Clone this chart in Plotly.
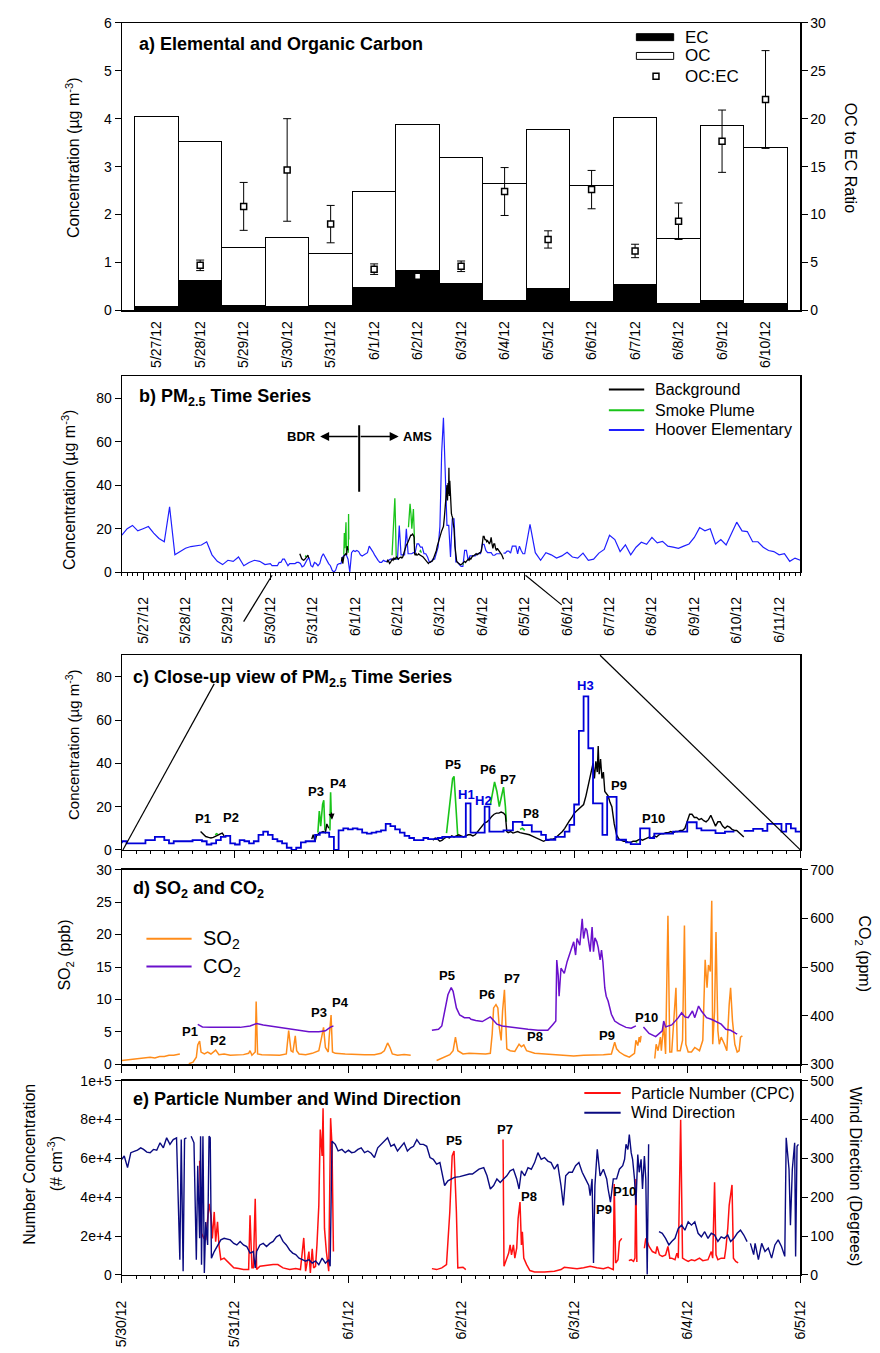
import pandas as pd
import plotly.graph_objects as go

FONT = "Liberation Sans, Arial, sans-serif"

# ---------------- Panel a data ----------------
dates_a = ["5/27/12", "5/28/12", "5/29/12", "5/30/12", "5/31/12", "6/1/12", "6/2/12", "6/3/12",
           "6/4/12", "6/5/12", "6/6/12", "6/7/12", "6/8/12", "6/9/12", "6/10/12"]
ec = [0.09, 0.62, 0.11, 0.09, 0.11, 0.47, 0.83, 0.56, 0.21, 0.45, 0.19, 0.55, 0.14, 0.21, 0.15]
oc = [3.96, 2.90, 1.20, 1.44, 1.07, 2.01, 3.05, 2.64, 2.43, 3.32, 2.41, 3.48, 1.36, 3.65, 3.25]
ocec = [None, 4.7, 10.85, 14.65, 9.0, 4.3, 3.55, 4.6, 12.4, 7.4, 12.6, 6.2, 9.3, 17.65, 22.0]
ocec_err = [0, 0.55, 2.5, 5.35, 1.95, 0.55, 0.15, 0.55, 2.5, 0.9, 2.0, 0.7, 1.9, 3.25, 5.1]

# ---------------- Hoover Elementary PM2.5 ----------------
hoover_early = [17, 20, 21.5, 19, 20, 21, 18, 15.5, 14, 30, 8, 9.6, 11, 11.8, 12, 12.5, 14, 8, 5, 3.5,
                5.5, 5, 7, 3, 4.5, 5.5, 5, 3.5]  # 3-hourly from 5/26 12:00
hoover_mid = [4, 3, 3, 3, 3, 4.5, 4.5, 6, 6, 4.5, 3, 4, 4, 4, 4, 4.5, 4.5, 4, 2.5, 3, 4.5, 6, 6.5, 3,
              2.5, 4.5, 4, 3, 4, 7, 8.5, 7, 5, 4, 3, 1, 0, 1, 3.5, 4, 4, 7, 8, 8, 6, 0, 9, 10,
              9.5, 10, 9.5, 8, 7.5, 8, 8.5, 9, 12, 11, 9.5, 8, 6.5, 5.5, 4.5, 4.5, 5.5, 5, 5, 5.5, 6, 6,
              6, 6, 6, 21.5, 8, 8, 8, 20, 8.5, 8.5, 8.5, 9, 9, 13, 13, 11.5, 11.5, 8.5, 8.5, 7,
              4.7, 4.7, 6, 6, 8.5, 11.6, 21, 55, 71, 47, 21.5, 21.5, 7, 24.5, 24.5, 4.7, 4.7, 3.5, 2.7, 2.7,
              10, 10, 5.5, 7.5, 7.5, 7.5, 7.5, 8.5, 8.5, 8.5, 12.8, 12.8, 10, 9, 9, 9, 7.8, 7.8,
              8.5, 8.5, 8.5, None, 8.8, 8.8, 9.7, 9.7, 8.8, 12, 12, 12, 8.5, 12, 10, 8.5, 8.5]  # hourly from 5/30 00:00
hoover_late = [22, 9, 5.5, 9, 8, 6.5, 7.5, 9.2, 7, 6.5, 8.8, 5.5, 6, 8.8, 10.5, 17, 15, 9.5, 12.6, 8,
               11.5, 13.8, 12.8, 16, 13.5, 14.2, 12, 11.5, 11, 12, 13, 16, 20.5, 19, 20, 13, 15, 12.5, 18, 23,
               19, 18.7, 14, 14, 11.5, 10, 9.5, 8, 8.5, 5, 6.5, 5.5]  # 3-hourly from 6/5 03:00

# (hours after 5/30 00:00, value)
background = [(16.7, 8.5), (17.2, 7.3), (17.8, 6.2), (18.4, 5.8), (18.9, 5.5), (19.4, 5.8), (19.9, 6.2),
              (20.4, 6.8), (20.8, 7.3), (21.3, 7.8), (21.7, 6.5), (21.8, None),
              (40.3, 5), (40.6, 7), (41.0, 4), (41.3, 6.5), (41.7, 7.5), (42.2, 8), (42.7, 8.5), (43.2, 8),
              (43.5, 12), (43.9, 10), (44.0, None),
              (66, 4.5), (66.5, 5.5), (67, 5), (67.5, 4), (68, 4.5), (68.5, 5.5), (69, 6), (69.5, 5.5),
              (70, 6.5), (70.5, 6), (71, 6.5), (71.5, 7), (72, 6.5), (72.5, 6), (73, 6.5), (73.5, 7),
              (74, 7), (74.5, 6.5), (75, 7), (75.5, 8.5), (76, 10), (76.5, 11), (77, 12.5), (77.5, 13),
              (78, 14), (78.5, 15.5), (79, 16.5), (79.5, 17), (80, 17), (80.5, 17.5), (81, 17), (81.4, 16),
              (81.7, 8.5), (82, 8), (82.5, 8.5), (83, 7.8), (83.5, 8), (84, 8.5), (84.5, 8), (85, 7.8),
              (85.5, 7.5), (86, 7.5), (86.5, 7), (87, 6.5), (87.5, 6), (88, 5.5), (88.5, 5), (89, 4.5),
              (89.5, 4), (90, 4.5), (90.5, 4.5), (91, 5), (91.5, 5), (92, 5.5), (92.5, 6.5), (93, 7.5),
              (93.5, 8.5), (94, 10), (94.5, 12), (95, 13.5), (95.5, 15), (96, 17), (96.5, 18), (97, 19),
              (97.5, 20), (98, 21), (98.5, 25), (99, 30), (99.5, 36), (100, 40), (100.3, 33), (100.6, 41),
              (100.9, 36), (101.1, 48), (101.3, 35), (101.6, 42), (101.9, 33), (102.2, 36), (102.5, 27),
              (102.8, 26), (103.2, 25), (103.6, 22), (104, 20), (104.5, 12), (105, 7), (105.5, 5),
              (106, 4.5), (106.5, 4), (107, 4), (107.5, 3.5), (108, 3.5), (108.5, 4), (109, 4), (109.5, 4.5),
              (110, 5), (110.5, 4.5), (111, 5), (111.5, 5.5), (112, 6), (112.5, 5.5), (113, 6.5), (113.5, 6),
              (114, 7), (114.5, 7.5), (115, 7.5), (115.5, 8), (116, 8), (116.5, 8.5), (117, 8), (117.5, 8.5),
              (118, 8.5), (118.5, 9), (119, 9), (119.5, 10), (120, 13), (120.5, 16.5), (121, 16.5),
              (121.5, 15), (122, 15), (122.5, 14), (123, 14.5), (123.5, 13.5), (124, 13), (124.5, 14),
              (125, 16), (125.5, 13), (126, 11), (126.5, 13), (127, 13), (127.5, 11), (128, 10),
              (128.5, 11), (129, 10.5), (129.5, 9.5), (130, 9), (130.5, 9), (131, 8), (131.5, 7), (132, 6)]

smoke = [(19.8, 7.0), (20.1, 7.5), (20.4, 7.2), (20.5, None),
         (41.6, 8), (41.9, 18), (42.2, 11), (42.6, 21), (42.85, 23), (43.1, 9), (43.2, None),
         (44.15, 9), (44.3, 26.7), (44.45, 15), (44.5, None),
         (68.9, 7.8), (69.6, 20), (70.2, 33), (70.5, 34), (70.8, 25), (71.3, 6), (71.4, None),
         (78.2, 20.7), (78.6, 26), (79.1, 31.4), (79.6, 27), (80.1, 20), (80.5, 24), (81.0, 29),
         (81.4, 20), (81.6, 13), (81.7, None),
         (84.5, 9.5), (85.0, 10), (85.5, 9), (85.6, None),
         (109.0, 4), (109.4, 3.5)]

# ---------------- Panel d ----------------
so2 = [(0, 0.6), (1, 0.7), (2, 0.8), (3, 0.8), (4, 0.9), (5, 1.0), (6, 1.1), (7, 1.0), (8, 1.2), (9, 1.2),
       (10, 1.4), (11, 1.4), (12, 1.6), (12.3, 1.6), (13, None),
       (14.2, 0.1), (15.1, 0.35), (15.8, 1.1), (16.1, 3.0), (16.5, 3.6), (16.8, 1.9), (17.5, 1.6),
       (18.2, 1.9), (18.9, 1.6), (19.9, 2.2), (20.6, 1.5), (21.7, 1.6), (23, 1.4), (24.4, 1.5),
       (25.8, 1.5), (26.9, 1.7), (27.2, 2.1), (27.6, 1.4), (28.3, 1.9), (28.5, 9.7), (28.8, 1.6),
       (29.7, 1.5), (31.4, 1.5), (33.5, 1.4), (34.9, 1.6), (35.4, 5.2), (35.9, 2.1), (36.3, 1.9),
       (36.8, 4.4), (37.1, 2.1), (37.6, 1.6), (39, 1.5), (40.4, 1.7), (41.8, 2.1), (42.4, 4.2),
       (42.8, 5.7), (43.2, 2.6), (43.8, 1.9), (44.0, 4.2), (44.4, 7.6), (44.7, 1.9), (45.3, 1.7),
       (47.4, 1.6), (49.4, 1.5), (51.5, 1.5), (53.6, 1.5), (55, 1.7), (55.7, 2.1), (56.4, 3.3),
       (56.9, 2.6), (57.4, 1.6), (58.5, 1.4), (59.9, 1.5), (61.3, 1.4), (62, None),
       (66.8, 0.6), (68.2, 1.1), (69.6, 1.5), (70.3, 2.1), (70.8, 4.2), (71.3, 2.1), (72.4, 1.6),
       (73.7, 1.7), (75.8, 1.6), (77.2, 1.6), (78.2, 1.7), (78.6, 4.7), (78.9, 8.7), (79.4, 9.2),
       (79.8, 8.7), (80.1, 5.7), (80.5, 3.7), (80.8, 8.2), (81.2, 11.5), (81.4, 7.2), (81.7, 2.4),
       (82.4, 2.1), (83.4, 2.0), (84.3, 3.1), (84.8, 2.7), (85.3, 3.0), (85.9, 2.1), (87.6, 1.7),
       (89.7, 1.6), (91.8, 1.6), (93.9, 1.5), (95.9, 1.3), (98, 1.4), (100.1, 1.4), (102.2, 1.5),
       (103.9, 1.6), (104.6, 3.4), (105, 2.4), (105.6, 1.9), (106.7, 1.4), (107.7, 1.1), (108.8, 1.7),
       (109.1, 3.7), (109.5, 2.9), (109.8, 4.2), (110, 3.4), (110.2, 4.4), (111, None),
       (113.1, 0.9), (113.4, 3.1), (113.8, 2.1), (114.3, 4.2), (114.5, 2.1), (115, 6.2), (115.4, 1.6),
       (115.9, 22.9), (116.3, 1.9), (116.7, 1.9), (117.6, 11.8), (117.9, 2.1), (118.5, 2.1), (119, 3.7),
       (119.4, 21.4), (119.7, 3.1), (120.2, 1.9), (120.9, 1.9), (121.6, 2.6), (122.6, 2.1), (123.3, 3.7),
       (123.8, 16.1), (124.2, 11.8), (124.5, 15.3), (124.9, 14.3), (125.2, 25.2), (125.4, 3.1),
       (125.8, 8.2), (126.1, 20.4), (126.5, 5.2), (126.8, 3.1), (127.2, 4.2), (127.9, 3.1), (128.4, 2.1),
       (128.9, 9.2), (129.2, 11.8), (129.6, 6.7), (130.1, 3.1), (130.6, 1.9), (131, 2.1), (131.3, 4.2),
       (131.7, 4.4)]

co2 = [(16.1, 382), (17.1, 377), (18.9, 376), (21, 376), (23, 376), (25.1, 376), (27.2, 379), (28.6, 384),
       (30, 381), (31.4, 379), (33.5, 376), (35.6, 372), (37.6, 369), (39.7, 367), (41.8, 367), (43.2, 369),
       (44.2, 376), (44.9, 379), (45, None),
       (65.8, 370), (67.2, 372), (67.9, 379), (68.5, 410), (69.2, 443), (69.9, 458), (70.3, 450), (71, 416),
       (71.7, 401.5), (72.7, 396), (73.75, 396), (74.1, 392.7), (75.1, 390), (76.5, 388), (77.5, 392.7),
       (78.2, 397.5), (78.9, 390), (79.6, 382.6), (80.7, 379), (82, 377), (84.1, 374), (86.2, 372),
       (88.3, 370), (90.4, 370), (91.4, 381), (92.1, 389), (92.3, 514.5), (92.6, 484), (92.8, 440),
       (93.2, 497.6), (93.9, 487), (94.5, 511), (95.2, 531.5), (95.9, 551.8), (96.3, 524.6), (96.6, 558.6),
       (97.2, 545), (97.7, 599), (98, 558.6), (98.4, 580), (98.7, 575.5), (99.1, 550), (99.4, 531.5),
       (99.8, 582), (100.1, 531.5), (100.4, 560), (100.8, 551.8), (101.1, 540), (101.5, 514.5),
       (101.8, 534.8), (102.1, 510), (102.5, 457), (102.8, 440), (103.2, 430), (103.9, 403), (104.6, 389),
       (105.6, 382.6), (107, 376), (108.1, 374.4), (109.1, 379), (109.5, None),
       (110.7, 377), (111.9, 363.6), (113.3, 356.9), (114.7, 369), (115, 389), (115.4, 377), (116.7, 381),
       (118.1, 396), (118.8, 406), (119.5, 397.5), (120.2, 396), (121.1, 409.6), (121.6, 396),
       (122.4, 419.8), (123, 409.6), (124.1, 396), (125.1, 392.7), (126.1, 388), (127.2, 382.6),
       (128.2, 372), (129.2, 370), (130.3, 363.6), (130.6, 362.3)]

# ---------------- Panel e ----------------
wind = [(0, 297.6), (0.5, 306), (1.2, 276), (1.9, 314.6), (2.6, 318), (3.3, 321), (4.0, 327), (4.6, 323),
        (5.3, 316), (6.0, 314.6), (6.7, 323), (7.4, 321), (8.1, 340), (8.8, 327), (9.5, 352.8), (10.2, 336),
        (10.9, 348.5), (11.6, 352.8), (12.3, 39), (12.6, 348.5), (13.0, 9.3), (13.3, 350), (13.7, 352.8),
        (14.2, None), (14.7, 357), (15.3, 340), (15.8, 39), (16.1, 281), (16.5, 94), (16.7, 357), (16.9, 26),
        (17.2, 357), (17.5, 5), (17.8, 136), (18.2, 77), (18.5, 357), (18.75, 353), (19.0, 43), (19.6, 60),
        (20.3, 77), (21.0, 90), (21.7, 94), (22.4, 92), (23.0, 90), (23.75, 81), (24.4, 77), (25.1, 86),
        (25.8, 77), (26.5, 73), (27.2, 56), (27.9, 60), (28.3, 18), (28.6, 60), (29.3, 77), (30.0, 81),
        (30.7, 73), (31.4, 81), (32.1, 86), (32.8, 98), (33.5, 102.6), (34.2, 86), (34.9, 77), (35.6, 64),
        (36.25, 56), (36.9, 52), (37.6, 43), (38.3, 39), (39.0, 35), (39.7, 39), (40.4, 30), (41.1, 36),
        (41.8, 26), (42.5, 43), (43.2, 30), (43.9, 39), (44.2, 22), (44.6, 344), (45.3, 336), (45.9, 319),
        (46.7, 323), (47.4, 314.6), (48.1, 321), (48.75, 314.6), (49.4, 316), (50.1, 323), (50.8, 327),
        (51.5, 314.6), (52.2, 319), (52.9, 313), (53.6, 302), (54.3, 327), (55.0, 336), (55.7, 344),
        (56.4, 352.8), (57.1, 331), (57.8, 336), (58.5, 319), (59.2, 331), (59.9, 340), (60.6, 319),
        (61.3, 327), (61.9, 331), (62.6, 348), (63.3, 336), (64.0, 336), (64.7, 331), (65.4, 302),
        (66.1, 297.6), (66.8, 285), (67.5, 289), (68.2, 247), (68.5, 230), (69.2, 242), (69.9, 247),
        (70.6, 251), (71.7, 253), (72.7, 257), (73.75, 259.5), (74.4, 259.5), (75.8, 272), (76.8, 276),
        (77.5, 255), (78.2, 221), (78.9, 230), (79.6, 247), (80.3, 238), (81.0, 247), (81.7, 255),
        (82.4, 268), (83.1, 272), (83.8, 247), (84.3, 221), (84.8, 268), (85.5, 255), (86.2, 276),
        (86.9, 272), (87.6, 289), (88.3, 314.6), (89.0, 297.6), (89.7, 302), (90.4, 293), (91.1, 289),
        (91.8, 272), (92.5, 285), (93.2, 230), (93.7, 179), (94.2, 255), (94.9, 264), (95.6, 264),
        (96.3, 281), (97.0, 289), (97.7, 264), (98.4, 247), (99.1, 230), (99.4, 204), (99.8, 247),
        (100.1, 30.5), (100.4, 230), (100.9, 323), (101.5, 255), (102.2, 272), (102.9, 247), (103.2, 221),
        (103.7, 187), (104.3, 247), (105.0, 247), (105.6, 272), (106.3, 281), (106.7, 297.6), (107.0, 336),
        (107.4, 323), (107.7, 361), (108.1, 314.6), (108.4, 297.6), (108.8, 247), (109.1, 179), (109.5, 310),
        (109.8, 264), (110.2, 297.6), (110.5, 221), (110.9, 306), (111.2, 247), (111.5, 1), (111.8, 336),
        (112.5, None), (114.0, 111), (114.7, 107), (115.4, 94), (116.1, 77), (116.7, 86), (117.4, 94),
        (118.1, 119.6), (118.8, 128), (119.5, 115), (120.2, 136.5), (120.9, 128), (121.6, 136.5),
        (122.3, 107), (123.0, 98), (123.7, 111), (124.4, 94), (125.1, 107), (125.8, 102.6), (126.5, 86),
        (127.2, 98), (127.9, 94), (128.6, 102.6), (129.2, 86), (129.9, 94), (130.6, 107), (131.3, 115),
        (132.0, 102.6), (132.7, 85.6), (133.0, None), (133.4, 81), (134.1, 52), (134.4, 81), (135.1, 39),
        (135.8, 81), (136.5, 60), (137.2, 69), (137.9, 43), (138.6, 77), (139.3, 90), (140.0, 73),
        (140.7, 47.5), (141.0, 353), (141.6, 272), (141.9, 128), (142.3, 272), (142.8, 340), (143.0, 47.5),
        (143.3, 331), (143.6, 336)]

particles = [(16.5, 58700), (16.7, 44000), (16.9, 21400), (17.4, 18800), (17.8, 18000), (18.5, 36600),
             (18.9, 30700), (19.2, 18800), (19.6, 32400), (19.9, 17100), (20.3, 27300), (20.6, 15400),
             (21.0, 7800), (21.7, 8600), (22.7, 6100), (23.75, 3600), (24.8, 3300), (25.8, 2700), (26.9, 2700),
             (27.2, 30700), (27.6, 3600), (27.9, 3600), (28.3, 39200), (28.6, 2700), (29.3, 4400), (30.7, 4900),
             (32.1, 5300), (33.1, 5300), (34.2, 3600), (35.6, 2700), (36.9, 3200), (37.9, 2700), (38.6, 19000),
             (39.0, 1900), (39.7, 12000), (40.0, 1000), (40.4, 13400), (40.7, 3600), (41.1, 4400), (41.4, 15400),
             (41.8, 35800), (42.1, 74800), (42.5, 61200), (42.7, 85800), (43.0, 23900), (43.4, 12000),
             (43.9, 1900), (44.3, 80700), (44.6, 66300), (44.9, 12000), (45.0, None),
             (65.8, 3200), (66.8, 2700), (67.9, 3600), (68.9, 5300), (69.6, 32400), (70.1, 61200), (70.5, 63800),
             (71.0, 32400), (71.3, 3600), (72.4, 3900), (73.0, 2700), (73.1, None),
             (80.9, 69700), (81.1, 4400), (81.7, 8600), (82.1, 11200), (82.4, 15400), (82.7, 10300), (83.1, 15400),
             (83.4, 8600), (83.8, 13700), (84.1, 29000), (84.5, 37500), (84.8, 15400), (85.0, 22200), (85.3, 8600),
             (85.9, 5300), (86.6, 2200), (87.6, 1500), (89.7, 1500), (91.8, 1900), (93.2, 2700), (93.9, 3900),
             (95.2, 3600), (96.6, 3200), (98.0, 3600), (99.4, 4400), (100.8, 3600), (102.2, 3200), (103.2, 3900),
             (104.3, 2700), (104.5, 46800), (104.8, 6100), (105.3, 7800), (105.6, 17100), (106.1, 18800),
             (106.2, None),
             (107.6, 7300), (108.1, 7800), (108.6, 6900), (108.9, 8600), (109.1, 49400), (109.3, 6600),
             (109.4, None),
             (110.9, 13700), (111.2, 18800), (111.5, 17100), (111.9, 14600), (112.6, 12000), (113.3, 11200),
             (113.6, 14600), (114.1, 10300), (114.7, 9500), (115.4, 10300), (115.9, 14600), (116.3, 8600),
             (116.7, 8600), (117.4, 7800), (117.8, 11200), (118.1, 8600), (118.6, 79900), (119.0, 8600),
             (119.5, 7800), (120.2, 6900), (120.9, 7800), (121.6, 7300), (122.6, 8600), (123.3, 7300),
             (124.4, 7800), (125.1, 12000), (125.4, 8600), (125.8, 47700), (126.1, 10300), (126.5, 7800),
             (127.2, 8600), (127.9, 8600), (128.2, 13700), (128.6, 23900), (128.9, 35800), (129.5, 46300),
             (129.8, 8600), (130.3, 6900), (130.8, 6100)]

# event labels (hours after 5/30, value)
labels_c = [("P1", 17.2, 14.5), ("P2", 23.1, 14.9), ("P3", 41.1, 26.8), ("P4", 46.0, 30.6), ("P5", 70.3, 39.3),
            ("P6", 77.7, 37.1), ("P7", 81.9, 32.6), ("P8", 86.9, 16.9), ("P9", 105.6, 29.8), ("P10", 112.9, 14.6)]
labels_c_h = [("H1", 73.2, 25.6), ("H2", 76.8, 23.0), ("H3", 98.4, 75.8)]
labels_d = [("P1", 14.4, 5.1), ("P2", 20.5, 3.65), ("P3", 41.9, 8.0), ("P4", 46.5, 9.5), ("P5", 68.9, 13.7),
            ("P6", 77.6, 10.7), ("P7", 82.7, 13.2), ("P8", 87.7, 4.3), ("P9", 102.9, 4.5), ("P10", 111.3, 7.2)]
labels_e = [("P5", 70.5, 69000), ("P7", 81.4, 75000), ("P8", 86.4, 40600), ("P9", 102.4, 33600),
            ("P10", 106.6, 42900)]

# ---------------- helpers ----------------
BASE = pd.Timestamp("2012-05-30")


def th(h):
    return BASE + pd.Timedelta(hours=h)


def unzip(series):
    return [th(h) for h, _ in series], [v for _, v in series]


def px(x):
    return x / 880.0


def py(y):
    return 1 - y / 1353.0


hoover_t = (list(pd.date_range("2012-05-26 12:00", periods=len(hoover_early), freq="3h"))
            + list(pd.date_range("2012-05-30 00:00", periods=len(hoover_mid), freq="h"))
            + list(pd.date_range("2012-06-05 03:00", periods=len(hoover_late), freq="3h")))
hoover_v = hoover_early + hoover_mid + hoover_late
bg_t, bg_v = unzip(background)
sm_t, sm_v = unzip(smoke)
so2_t, so2_v = unzip(so2)
co2_t, co2_v = unzip(co2)
wd_t, wd_v = unzip(wind)
pn_t, pn_v = unzip(particles)

XD = [px(116), px(807)]
DOM_A = [py(306), py(15)]
DOM_B = [py(571), py(372.7)]
DOM_C = [py(852), py(655)]
DOM_D = [py(1069), py(872)]
DOM_E = [py(1282), py(1085.5)]

BLACK = "#000000"
GREEN = "#19c419"
BLUE_B = "#1f1fff"
BLUE_C = "#0000d8"
ORANGE = "#ff8c1a"
PURPLE = "#6a10cc"
RED = "#ff1010"
NAVY = "#0a0a80"

fig = go.Figure()

# ---- panel a ----
fig.add_trace(go.Bar(x=dates_a, y=ec, marker=dict(color="black", line=dict(color="black", width=1)),
                     xaxis="x", yaxis="y", name="EC"))
fig.add_trace(go.Bar(x=dates_a, y=oc, marker=dict(color="white", line=dict(color="black", width=1)),
                     xaxis="x", yaxis="y", name="OC"))
fig.add_trace(go.Scatter(x=dates_a, y=ocec, mode="markers", xaxis="x", yaxis="y2", name="OC:EC",
                         marker=dict(symbol="square", size=6, color="white", line=dict(color="black", width=1.5)),
                         error_y=dict(type="data", array=ocec_err, color="black", thickness=1, width=4)))

# ---- panel b ----
fig.add_trace(go.Scatter(x=hoover_t, y=hoover_v, mode="lines", line=dict(color=BLUE_B, width=1.2),
                         xaxis="x2", yaxis="y3", connectgaps=False))
fig.add_trace(go.Scatter(x=sm_t, y=sm_v, mode="lines", line=dict(color=GREEN, width=1.3),
                         xaxis="x2", yaxis="y3", connectgaps=False))
fig.add_trace(go.Scatter(x=bg_t, y=bg_v, mode="lines", line=dict(color=BLACK, width=1.3),
                         xaxis="x2", yaxis="y3", connectgaps=False))

# ---- panel c ----
fig.add_trace(go.Scatter(x=sm_t, y=sm_v, mode="lines", line=dict(color=GREEN, width=1.6),
                         xaxis="x3", yaxis="y4", connectgaps=False))
fig.add_trace(go.Scatter(x=bg_t, y=bg_v, mode="lines", line=dict(color=BLACK, width=1.4),
                         xaxis="x3", yaxis="y4", connectgaps=False))
fig.add_trace(go.Scatter(x=hoover_t, y=hoover_v, mode="lines", line=dict(color=BLUE_C, width=1.8, shape="hv"),
                         xaxis="x3", yaxis="y4", connectgaps=False))

# ---- panel d ----
fig.add_trace(go.Scatter(x=co2_t, y=co2_v, mode="lines", line=dict(color=PURPLE, width=1.5),
                         xaxis="x4", yaxis="y6", connectgaps=False))
fig.add_trace(go.Scatter(x=so2_t, y=so2_v, mode="lines", line=dict(color=ORANGE, width=1.5),
                         xaxis="x4", yaxis="y5", connectgaps=False))

# ---- panel e ----
fig.add_trace(go.Scatter(x=wd_t, y=wd_v, mode="lines", line=dict(color=NAVY, width=1.4),
                         xaxis="x5", yaxis="y8", connectgaps=False))
fig.add_trace(go.Scatter(x=pn_t, y=pn_v, mode="lines", line=dict(color=RED, width=1.5),
                         xaxis="x5", yaxis="y7", connectgaps=False))

tickfont = dict(family=FONT, size=14, color="black")
minor = dict(ticks="outside", ticklen=3, dtick=3 * 3600 * 1000, tickcolor="black", showgrid=False)


def time_x(domain, anchor, rng, labels, standoff=0):
    d = dict(domain=domain, anchor=anchor, type="date", range=rng, showline=True, linecolor="black",
             linewidth=1.2, mirror=True, ticks="outside", ticklen=7, tickcolor="black", showgrid=False,
             zeroline=False, dtick=86400000, tick0="2012-05-27", minor=minor, showticklabels=labels,
             tickformat="%-m/%-d/%y", tickangle=-90, tickfont=tickfont)
    if labels:
        d["ticklabelstandoff"] = standoff
    return d


def yax(domain, anchor, rng, dtick=None, tickvals=None, ticktext=None, side="left", overlaying=None,
        mirror=False):
    d = dict(domain=domain, anchor=anchor, range=rng, showline=True, linecolor="black", linewidth=1.2,
             ticks="outside", ticklen=6, tickcolor="black", showgrid=False, zeroline=False, side=side,
             tickfont=tickfont, mirror=mirror)
    if dtick is not None:
        d["dtick"] = dtick
    if tickvals is not None:
        d["tickmode"] = "array"
        d["tickvals"] = tickvals
    if ticktext is not None:
        d["ticktext"] = ticktext
    if overlaying:
        d["overlaying"] = overlaying
    return d


layout = dict(
    width=880, height=1353, autosize=False, margin=dict(l=0, r=0, t=0, b=0),
    paper_bgcolor="white", plot_bgcolor="white", showlegend=False, barmode="stack", bargap=0,
    hovermode=False, font=dict(family=FONT, color="black"),
    xaxis=dict(domain=XD, anchor="y", type="category", range=[-0.8, 14.8], showline=True, linecolor="black",
               linewidth=1.2, mirror=True, ticks="", tickangle=-90, tickfont=tickfont, ticklabelstandoff=4,
               showgrid=False),
    yaxis=yax(DOM_A, "x", [0, 6], dtick=1),
    yaxis2=yax(DOM_A, "x", [0, 30], dtick=5, side="right", overlaying="y"),
    xaxis2=time_x(XD, "y3", ["2012-05-26 12:00", "2012-06-11 12:00"], True, standoff=11),
    yaxis3=yax(DOM_B, "x2", [0, 90], tickvals=[0, 20, 40, 60, 80], mirror=True),
    xaxis3=time_x(XD, "y4", ["2012-05-30", "2012-06-05"], False),
    yaxis4=yax(DOM_C, "x3", [0, 90], tickvals=[0, 20, 40, 60, 80], mirror=True),
    xaxis4=time_x(XD, "y5", ["2012-05-30", "2012-06-05"], False),
    yaxis5=yax(DOM_D, "x4", [0, 30], dtick=5),
    yaxis6=yax(DOM_D, "x4", [300, 700], dtick=100, side="right", overlaying="y5"),
    xaxis5=time_x(XD, "y7", ["2012-05-30", "2012-06-05"], True, standoff=12),
    yaxis7=yax(DOM_E, "x5", [0, 100000], tickvals=[0, 20000, 40000, 60000, 80000, 100000],
               ticktext=["0", "2e+4", "4e+4", "6e+4", "8e+4", "1e+5"]),
    yaxis8=yax(DOM_E, "x5", [0, 500], dtick=100, side="right", overlaying="y7"),
)
fig.update_layout(**layout)

ann = []
shapes = []


def txt(x, y, text, size, xanchor="left", angle=0, color="black"):
    ann.append(dict(xref="paper", yref="paper", x=px(x), y=py(y), text=text, showarrow=False,
                    xanchor=xanchor, yanchor="middle", textangle=angle,
                    font=dict(family=FONT, size=size, color=color)))


def hline(x0, x1, y, color, width=2):
    shapes.append(dict(type="line", xref="paper", yref="paper", x0=px(x0), x1=px(x1), y0=py(y), y1=py(y),
                       line=dict(color=color, width=width)))


# panel titles
txt(131, 36, "<b>a) Elemental and Organic Carbon</b>", 18)
txt(131, 394, "<b>b) PM<sub>2.5</sub> Time Series</b>", 18)
txt(125, 679, "<b>c) Close-up view of PM<sub>2.5</sub> Time Series</b>", 18)
txt(125, 892, "<b>d) SO<sub>2</sub> and CO<sub>2</sub></b>", 18)
txt(125, 1104, "<b>e) Particle Number and Wind Direction</b>", 18)

# axis titles
txt(66, 151, "Concentration (µg m<sup>-3</sup>)", 16, "center", -90)
txt(858, 152, "OC to EC Ratio", 16, "center", 90)
txt(62, 487, "Concentration (µg m<sup>-3</sup>)", 16, "center", -90)
txt(65, 745, "Concentration (µg m<sup>-3</sup>)", 15, "center", -90)
txt(59, 958, "SO<sub>2</sub> (ppb)", 16, "center", -90)
txt(871, 957, "CO<sub>2</sub> (ppm)", 16, "center", 90)
txt(22, 1170, "Number Concentration", 16, "center", -90)
txt(48, 1170, "(# cm<sup>-3</sup>)", 16, "center", -90)
txt(864, 1183, "Wind Direction (Degrees)", 16, "center", 90)

# legend a
shapes.append(dict(type="rect", xref="paper", yref="paper", x0=px(640), x1=px(678), y0=py(33), y1=py(26),
                   fillcolor="black", line=dict(color="black", width=1)))
shapes.append(dict(type="rect", xref="paper", yref="paper", x0=px(640), x1=px(678), y0=py(52), y1=py(45),
                   fillcolor="white", line=dict(color="black", width=1)))
shapes.append(dict(type="rect", xref="paper", yref="paper", x0=px(657), x1=px(663), y0=py(72), y1=py(66),
                   fillcolor="white", line=dict(color="black", width=1.5)))
txt(687, 29.5, "EC", 17)
txt(687, 48.5, "OC", 17)
txt(687, 69, "OC:EC", 17)

# legend b
hline(612, 648, 386, BLACK)
hline(612, 648, 407, GREEN)
hline(612, 648, 427, BLUE_B)
txt(657, 386, "Background", 16)
txt(657, 407, "Smoke Plume", 16)
txt(657, 427, "Hoover Elementary", 16)

# legend d
hline(141, 187, 942, ORANGE)
hline(141, 187, 970, PURPLE)
txt(197, 943, "SO<sub>2</sub>", 20)
txt(197, 971, "CO<sub>2</sub>", 20)

# legend e
hline(587, 624, 1098, RED)
hline(587, 624, 1118, NAVY)
txt(632, 1098, "Particle Number (CPC)", 16)
txt(632, 1118, "Wind Direction", 16)

# zoom connector lines
for (x0, y0, x1, y1) in [(269, 574, 240, 621), (527, 574, 564, 604), (117, 852, 210, 684), (603, 655, 807, 852)]:
    shapes.append(dict(type="line", xref="paper", yref="paper", x0=px(x0), y0=py(y0), x1=px(x1), y1=py(y1),
                       line=dict(color="black", width=1.2)))

# BDR / AMS marker in panel b
split_t = pd.Timestamp("2012-06-01 02:18")
shapes.append(dict(type="line", xref="x2", yref="y3", x0=split_t, x1=split_t, y0=37, y1=67.5,
                   line=dict(color="black", width=2)))
ann.append(dict(xref="x2", yref="y3", axref="x2", ayref="y3", x=pd.Timestamp("2012-05-31 04:13"), y=62.4,
                ax=split_t, ay=62.4, text="", showarrow=True, arrowhead=2, arrowsize=1.2, arrowwidth=1.5,
                arrowcolor="black"))
ann.append(dict(xref="x2", yref="y3", axref="x2", ayref="y3", x=pd.Timestamp("2012-06-02 00:40"), y=62.4,
                ax=split_t, ay=62.4, text="", showarrow=True, arrowhead=2, arrowsize=1.2, arrowwidth=1.5,
                arrowcolor="black"))
ann.append(dict(xref="x2", yref="y3", x=pd.Timestamp("2012-05-31 03:00"), y=62.4, text="<b>BDR</b>",
                showarrow=False, xanchor="right", font=dict(family=FONT, size=13, color="black")))
ann.append(dict(xref="x2", yref="y3", x=pd.Timestamp("2012-06-02 01:48"), y=62.4, text="<b>AMS</b>",
                showarrow=False, xanchor="left", font=dict(family=FONT, size=13, color="black")))

# P4 arrowhead in panel c
ann.append(dict(xref="x3", yref="y4", axref="x3", ayref="y4", x=th(44.6), y=14.0, ax=th(44.45), ay=18,
                text="", showarrow=True, arrowhead=2, arrowsize=1, arrowwidth=1.2, arrowcolor="black"))

for name, h, v in labels_c:
    ann.append(dict(xref="x3", yref="y4", x=th(h), y=v, text=f"<b>{name}</b>", showarrow=False,
                    font=dict(family=FONT, size=13, color="black")))
for name, h, v in labels_c_h:
    ann.append(dict(xref="x3", yref="y4", x=th(h), y=v, text=f"<b>{name}</b>", showarrow=False,
                    font=dict(family=FONT, size=13, color="#0000e0")))
for name, h, v in labels_d:
    ann.append(dict(xref="x4", yref="y5", x=th(h), y=v, text=f"<b>{name}</b>", showarrow=False,
                    font=dict(family=FONT, size=13, color="black")))
for name, h, v in labels_e:
    ann.append(dict(xref="x5", yref="y7", x=th(h), y=v, text=f"<b>{name}</b>", showarrow=False,
                    font=dict(family=FONT, size=13, color="black")))

fig.update_layout(annotations=ann, shapes=shapes)
fig.write_html("out.html", config={"displayModeBar": False, "staticPlot": True},
               post_script="document.body.style.margin='0px';document.body.style.overflow='hidden';")
